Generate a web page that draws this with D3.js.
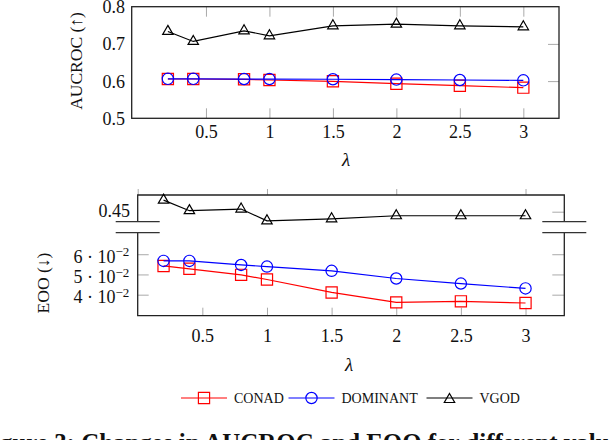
<!DOCTYPE html>
<html>
<head>
<meta charset="utf-8">
<script src="https://cdn.jsdelivr.net/npm/d3@7"></script>
<style>
  body { margin: 0; background: #fff; }
  svg { display: block; }
  svg text { font-family: "Liberation Serif", "Times New Roman", serif !important; }
</style>
</head>
<body>
<div id="chart"></div>
<script>
(function (d3) {
	'use strict';

	// DATA
	const lambdas = [0.2, 0.4, 0.8, 1, 1.5, 2, 2.5, 3];
	const aucConad = [0.6056, 0.6056, 0.6048, 0.6030, 0.5995, 0.5930, 0.5876, 0.5823];
	const aucDominant = [0.6060, 0.6060, 0.6055, 0.6055, 0.6050, 0.6040, 0.6030, 0.6020];
	const aucVgod = [0.7335, 0.7066, 0.7352, 0.7218, 0.7487, 0.7532, 0.7487, 0.7460];
	const eooConad = [0.0542, 0.0528, 0.0498, 0.0475, 0.0411, 0.0362, 0.0367, 0.0359];
	const eooDominant = [0.0567, 0.0567, 0.0547, 0.0539, 0.0518, 0.0480, 0.0455, 0.0431];
	const eooVgod = [0.4557, 0.4505, 0.4513, 0.4455, 0.4465, 0.4480, 0.4480, 0.4480];

	const xTicks = [0.5, 1, 1.5, 2, 2.5, 3];
	const xTopTicksEoo = [0, 1, 2, 3];
	const aucTicks = [0.5, 0.6, 0.7, 0.8];
	const eooLowTicks = [0.04, 0.05, 0.06];
	const eooHighTicks = [0.45];

	const methods = ["CONAD", "DOMINANT", "VGOD"];
	const colors = { CONAD: "#ff0000", DOMINANT: "#0000ff", VGOD: "#000000" };
	const symbols = { CONAD: d3.symbolSquare, DOMINANT: d3.symbolCircle, VGOD: d3.symbolTriangle };
	const symbolSizes = { CONAD: 125, DOMINANT: 100, VGOD: 47 };

	const svg = d3.select("#chart").append("svg")
		.attr("width", 610)
		.attr("height", 440);
	svg.append("rect").attr("width", 610).attr("height", 440).attr("fill", "#fff");

	const tickColor = "#aaaaaa";
	const frameColor = "#222";
	const labelSize = 18;

	const styleAxis = (g) => {
		g.attr("font-family", null).attr("font-size", null);
		g.selectAll(".domain").remove();
		g.selectAll(".tick line").attr("stroke", tickColor).attr("stroke-width", 1);
		g.selectAll(".tick text")
			.attr("fill", "#111")
			.attr("font-size", labelSize);
	};

	const drawSeries = (g, xs, ys, name, values) => {
		const line = d3.line().x((d, i) => xs(lambdas[i])).y(d => ys(d));
		g.append("path")
			.datum(values)
			.attr("d", line)
			.attr("fill", "none")
			.attr("stroke", colors[name])
			.attr("stroke-width", 1.2);
		g.selectAll(null)
			.data(values)
			.enter().append("path")
			.attr("transform", (d, i) => `translate(${xs(lambdas[i])},${ys(d)})`)
			.attr("d", d3.symbol().type(symbols[name]).size(symbolSizes[name]))
			.attr("fill", "none")
			.attr("stroke", colors[name])
			.attr("stroke-width", 1.2);
	};

	// ---------- TOP CHART: AUCROC ----------
	const x1 = d3.scaleLinear().domain([-0.085, 3.281]).range([131.7, 559]);
	const y1 = d3.scaleLinear().domain([0.5, 0.8]).range([118.3, 6.7]);
	const top = svg.append("g");

	top.append("g")
		.attr("transform", `translate(0,${y1.range()[0]})`)
		.call(d3.axisBottom(x1).tickValues(xTicks).tickSizeInner(-10).tickSizeOuter(0).tickFormat(d => String(d)))
		.call(styleAxis)
		.call(g => g.selectAll(".tick text").attr("y", 20).attr("dy", 0));
	top.append("g")
		.attr("transform", `translate(0,${y1.range()[1]})`)
		.call(d3.axisTop(x1).tickValues(xTicks).tickSizeInner(-10).tickSizeOuter(0).tickFormat(""))
		.call(styleAxis);
	top.append("g")
		.attr("transform", `translate(${x1.range()[0]},0)`)
		.call(d3.axisLeft(y1).tickValues(aucTicks).tickSizeInner(0).tickSizeOuter(0).tickPadding(6.7).tickFormat(d => String(d)))
		.call(styleAxis)
		.call(g => g.selectAll(".tick text").attr("dy", "0.33em"));
	top.append("g")
		.attr("transform", `translate(${x1.range()[1]},0)`)
		.call(d3.axisRight(y1).tickValues(aucTicks.slice(1, 3)).tickSizeInner(-11).tickSizeOuter(0).tickFormat(""))
		.call(styleAxis);

	top.append("rect")
		.attr("x", x1.range()[0]).attr("y", y1.range()[1])
		.attr("width", x1.range()[1] - x1.range()[0])
		.attr("height", y1.range()[0] - y1.range()[1])
		.attr("fill", "none").attr("stroke", frameColor).attr("stroke-width", 1.3);

	drawSeries(top, x1, y1, "CONAD", aucConad);
	drawSeries(top, x1, y1, "DOMINANT", aucDominant);
	drawSeries(top, x1, y1, "VGOD", aucVgod);

	top.append("text")
		.attr("transform", "translate(82,61) rotate(-90)")
		.attr("text-anchor", "middle")
		.attr("font-size", 17.5)
		.attr("fill", "#111")
		.text("AUCROC (↑)");
	top.append("text")
		.attr("x", 346).attr("y", 166)
		.attr("text-anchor", "middle")
		.attr("font-size", 19)
		.attr("font-style", "italic")
		.attr("fill", "#111")
		.text("λ");

	// ---------- BOTTOM CHART: EOO (broken axis) ----------
	const x2 = d3.scaleLinear().domain([0, 3.3]).range([137.7, 564.3]);
	const y2hi = d3.scaleLinear().domain([0.445074, 0.458227]).range([221.7, 195]);
	const y2lo = d3.scaleLinear().domain([0.02961, 0.07064]).range([315.7, 232.7]);
	const bot = svg.append("g");

	// ticks above the upper part
	bot.append("g")
		.attr("transform", `translate(0,${y2hi.range()[1]})`)
		.call(d3.axisTop(x2).tickValues(xTopTicksEoo).tickSizeInner(6).tickSizeOuter(0).tickFormat(""))
		.call(styleAxis);
	// bottom x axis of lower part
	bot.append("g")
		.attr("transform", `translate(0,${y2lo.range()[0]})`)
		.call(d3.axisBottom(x2).tickValues(xTicks).tickSizeInner(-8).tickSizeOuter(0).tickFormat(d => String(d)))
		.call(styleAxis)
		.call(g => g.selectAll(".tick text").attr("y", 26.3).attr("dy", 0));

	// upper y ticks
	bot.append("g")
		.attr("transform", `translate(${x2.range()[0]},0)`)
		.call(d3.axisLeft(y2hi).tickValues(eooHighTicks).tickSizeInner(0).tickSizeOuter(0).tickPadding(7.7).tickFormat(d => String(d)))
		.call(styleAxis)
		.call(g => g.selectAll(".tick text").attr("dy", "0.28em"));
	bot.append("g")
		.attr("transform", `translate(${x2.range()[1]},0)`)
		.call(d3.axisRight(y2hi).tickValues(eooHighTicks).tickSizeInner(-12).tickSizeOuter(0).tickFormat(""))
		.call(styleAxis);

	// lower y ticks
	bot.append("g")
		.attr("transform", `translate(${x2.range()[0]},0)`)
		.call(d3.axisLeft(y2lo).tickValues(eooLowTicks).tickSizeInner(-11).tickSizeOuter(0).tickPadding(8.4).tickFormat(""))
		.call(styleAxis)
		.call(g => g.selectAll(".tick text")
			.attr("dy", "0.45em")
			.each(function (d) {
				const t = d3.select(this);
				t.append("tspan").text(`${Math.round(d * 100)} · 10`);
				t.append("tspan").attr("dy", "-0.5em").attr("font-size", 13).text("−2");
			}));
	bot.append("g")
		.attr("transform", `translate(${x2.range()[1]},0)`)
		.call(d3.axisRight(y2lo).tickValues(eooLowTicks).tickSizeInner(-12).tickSizeOuter(0).tickFormat(""))
		.call(styleAxis);

	// frames
	const [xl, xr] = x2.range();
	const hiBottom = y2hi.range()[0], hiTop = y2hi.range()[1];
	const loBottom = y2lo.range()[0], loTop = y2lo.range()[1];
	bot.append("path")
		.attr("d", `M${xl},${hiBottom}V${hiTop}H${xr}V${hiBottom}`)
		.attr("fill", "none").attr("stroke", frameColor).attr("stroke-width", 1.3);
	bot.append("path")
		.attr("d", `M${xl},${loTop}V${loBottom}H${xr}V${loTop}`)
		.attr("fill", "none").attr("stroke", frameColor).attr("stroke-width", 1.3);
	// break marks
	[xl, xr].forEach(xe => {
		[hiBottom, loTop].forEach(ye => {
			bot.append("line")
				.attr("x1", xe - 22).attr("x2", xe + 22)
				.attr("y1", ye).attr("y2", ye)
				.attr("stroke", "#333").attr("stroke-width", 1.3);
		});
	});

	drawSeries(bot, x2, y2lo, "CONAD", eooConad);
	drawSeries(bot, x2, y2lo, "DOMINANT", eooDominant);
	drawSeries(bot, x2, y2hi, "VGOD", eooVgod);

	bot.append("text")
		.attr("transform", "translate(49,283) rotate(-90)")
		.attr("text-anchor", "middle")
		.attr("font-size", 17.5)
		.attr("fill", "#111")
		.text("EOO (↓)");
	bot.append("text")
		.attr("x", 349).attr("y", 371)
		.attr("text-anchor", "middle")
		.attr("font-size", 19)
		.attr("font-style", "italic")
		.attr("fill", "#111")
		.text("λ");

	// ---------- LEGEND ----------
	const legendStarts = [181, 288.5, 426.5];
	const legendY = 398;
	const legend = svg.append("g");
	methods.forEach((m, i) => {
		const x0 = legendStarts[i];
		legend.append("line")
			.attr("x1", x0).attr("x2", x0 + 46)
			.attr("y1", legendY).attr("y2", legendY)
			.attr("stroke", colors[m]).attr("stroke-width", 1.2);
		legend.append("path")
			.attr("transform", `translate(${x0 + 23},${legendY + (m === "VGOD" ? 1.5 : 0)})`)
			.attr("d", d3.symbol().type(symbols[m]).size(symbolSizes[m]))
			.attr("fill", "none").attr("stroke", colors[m]).attr("stroke-width", 1.2);
		legend.append("text")
			.attr("x", x0 + 53).attr("y", legendY + 5)
			.attr("font-size", 14)
			.attr("fill", "#111")
			.text(m);
	});

	// ---------- CAPTION (cut by the frame edge) ----------
	// size it so "gure 3: ... different valu" spans the full width
	const probe = svg.append("text").attr("font-size", 22).attr("font-weight", "bold");
	const fiW = probe.text("Fi").node().getComputedTextLength();
	const partW = probe.text("Figure 3: Changes in AUCROC and EOO for different valu").node().getComputedTextLength();
	probe.remove();
	const capSize = 22 * 610 / (partW - fiW);
	svg.append("text")
		.attr("x", -fiW * capSize / 22)
		.attr("y", 435 + 0.66 * capSize)
		.attr("font-size", capSize)
		.attr("font-weight", "bold")
		.attr("fill", "#111")
		.text("Figure 3: Changes in AUCROC and EOO for different values of λ");
}(d3));
</script>
</body>
</html>
